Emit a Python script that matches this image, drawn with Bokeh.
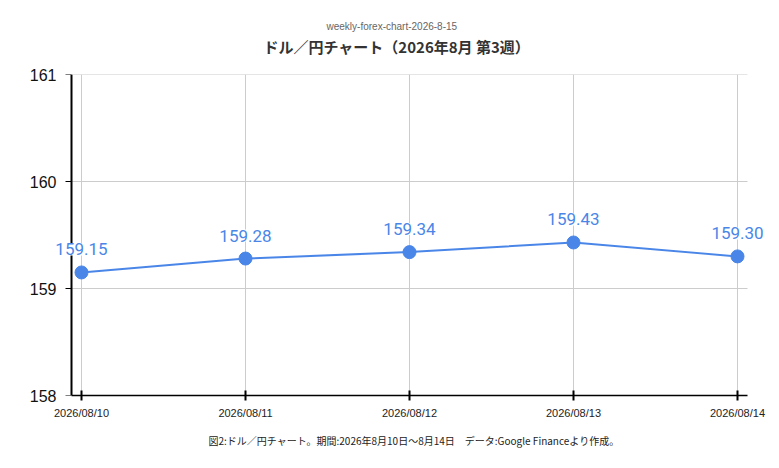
from bokeh.plotting import figure
from bokeh.models import ColumnDataSource, LabelSet, Title, FixedTicker, Range1d, LinearAxis
from bokeh.embed import file_html
from bokeh.resources import INLINE
from bokeh.core.properties import value

dates = ["2026/08/10", "2026/08/11", "2026/08/12", "2026/08/13", "2026/08/14"]
rates = [159.15, 159.28, 159.34, 159.43, 159.30]
y_ticks = [158, 159, 160, 161]
subtitle = "weekly-forex-chart-2026-8-15"
title = "ドル／円チャート（2026年8月 第3週）"
caption = "図2:ドル／円チャート。期間:2026年8月10日～8月14日　データ:Google Financeより作成。"

idx = list(range(len(dates)))
src = ColumnDataSource(dict(x=idx, y=rates, lab=[f"{v:.2f}" for v in rates]))

BLUE = "#4a86e8"
PAD = 0.061           # visual padding of the plotting area (data units)
OUTER = 0.2012        # extra room so value labels are not clipped
x_lo, x_hi = idx[0] - PAD, idx[-1] + PAD

p = figure(width=777, height=466, output_backend="svg", toolbar_location=None,
           x_range=Range1d(idx[0] - OUTER, idx[-1] + 0.2134), y_range=Range1d(y_ticks[0], y_ticks[-1]),
           min_border_left=48, min_border_right=5, min_border_top=74, min_border_bottom=71)
p.outline_line_color = None
p.background_fill_color = "white"

# horizontal grid lines limited to the visible plotting area
p.ygrid.grid_line_color = None
gy = y_ticks[1:]
p.segment(x0=[x_lo] * len(gy), y0=gy, x1=[x_hi] * len(gy), y1=gy,
          line_color="#cccccc", line_width=1, level="underlay")
p.xgrid.grid_line_color = "#cccccc"

p.line("x", "y", source=src, line_color=BLUE, line_width=2)
p.scatter("x", "y", source=src, size=13, fill_color=BLUE, line_color=BLUE)
p.add_layout(LabelSet(x="x", y="y", text="lab", source=src, text_align="center",
                      text_baseline="alphabetic", y_offset=17, text_color=BLUE,
                      text_font_size="17px", text_font=value("Roboto"),
                      background_fill_color="white"))

# x axis
p.xaxis.ticker = FixedTicker(ticks=idx)
p.xaxis.major_label_overrides = {i: d for i, d in zip(idx, dates)}
p.xaxis.bounds = (x_lo, x_hi)
p.xaxis.axis_line_color = "black"
p.xaxis.axis_line_width = 1.5
p.xaxis.major_tick_in = 5
p.xaxis.major_tick_out = 5
p.xaxis.major_tick_line_width = 2
p.xaxis.major_tick_line_color = "black"
p.xaxis.minor_tick_line_color = None
p.xaxis.major_label_text_font = "Liberation Sans"
p.xaxis.major_label_text_font_size = "11px"
p.xaxis.major_label_text_color = "#222222"
p.xaxis.major_label_standoff = 6

# y axis: labels from the side panel
p.yaxis.ticker = FixedTicker(ticks=y_ticks)
p.yaxis.axis_line_color = None
p.yaxis.major_tick_line_color = None
p.yaxis.minor_tick_line_color = None
p.yaxis.major_tick_in = 0
p.yaxis.major_tick_out = 0
p.yaxis.major_label_text_font = "Liberation Sans"
p.yaxis.major_label_text_font_size = "16px"
p.yaxis.major_label_text_color = "#111111"
p.yaxis.major_label_standoff = -8

# y axis: spine and ticks at the edge of the plotting area
spine = LinearAxis(ticker=FixedTicker(ticks=y_ticks), fixed_location=x_lo,
                   axis_line_color="black", axis_line_width=2,
                   major_tick_in=0, major_tick_out=6, major_tick_line_color="black",
                   minor_tick_line_color=None, major_label_text_font_size="1px",
                   major_label_text_color=None, major_label_standoff=0)
p.add_layout(spine, "left")

p.add_layout(Title(text=title, align="left", offset=215, text_font="Noto Sans CJK JP",
                   text_font_size="15px", text_font_style="bold", text_color="#333333",
                   standoff=36), "above")
p.add_layout(Title(text=subtitle, align="left", offset=278, text_font="Liberation Sans",
                   text_font_size="10px", text_font_style="normal", text_color="#666666",
                   standoff=-32), "above")
p.add_layout(Title(text=caption, align="left", offset=160, text_font="Noto Sans CJK JP",
                   text_font_size="10px", text_font_style="normal", text_color="#222222",
                   standoff=19), "below")

open("out.html", "w").write(file_html(p, INLINE))
